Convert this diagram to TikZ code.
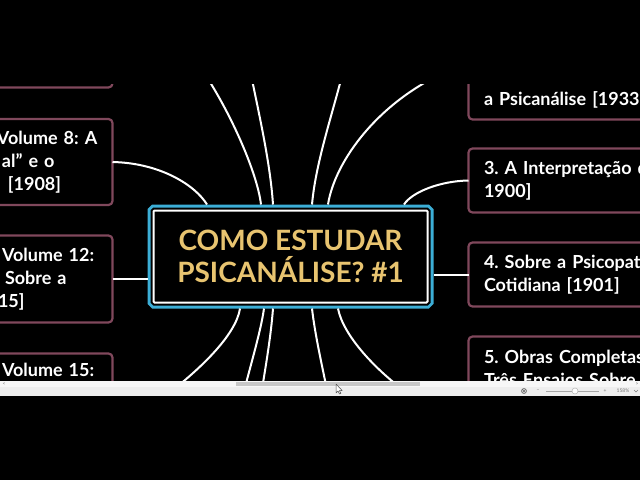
\documentclass[tikz,border=0pt]{standalone}
\usepackage{fontspec}
\setmainfont{Lato}
\usetikzlibrary{calc}
\frenchspacing
\definecolor{vinho}{RGB}{128,72,92}
\definecolor{ciano}{RGB}{60,174,214}
\definecolor{ouro}{RGB}{232,196,112}
\definecolor{trilho}{RGB}{247,247,247}
\definecolor{rodape}{RGB}{238,238,238}
\tikzset{
  galho/.style={white,line width=2pt},
  caixa/.style={draw=vinho,line width=2.2pt,rounded corners=4pt,fill=black,text=white,
    outer sep=0pt,align=left,font=\bfseries\fontsize{18}{23}\selectfont\frenchspacing},
  caixaesq/.style={caixa,inner xsep=6pt,text width=#1},
  caixadir/.style={caixa,inner xsep=15.5pt,text width=420pt,anchor=west},
  tema/.style={draw=white,line width=2pt,rounded corners=1pt,fill=black,
    minimum width=274pt,minimum height=92pt,outer sep=6pt,
    preaction={draw=ciano,line width=12pt},
    preaction={draw=black,line width=6pt},
    text=ouro,align=center,font=\bfseries\fontsize{28}{32}\selectfont},
  miudo/.style={inner sep=0pt,text=black!55,font=\fontsize{5}{5}\selectfont}
}
\begin{document}
\begin{tikzpicture}[x=1pt,y=-1pt]
\fill[black] (0,0) rectangle (640,480);
\useasboundingbox (0,0) rectangle (640,480);

\begin{scope}
\clip (0,84) rectangle (640,381);
\node[tema] (tema) at (290.5,256.5) {COMO ESTUDAR\\PSICANÁLISE? \#1};

% lado esquerdo
\node[caixaesq=110pt,minimum height=86pt,anchor=south east] (obras) at (112.5,87.5) {};
\node[caixaesq=109.5pt,minimum height=86pt,anchor=east] (vol8) at (112.5,162)
  {Volume 8: A\\\hspace*{5pt}al” e o\\\hspace*{11pt}[1908]};
\node[caixaesq=104.5pt,minimum height=87pt,anchor=east] (vol12) at (112.5,279)
  {Volume 12:\\\hspace*{3pt}Sobre a\\\hspace*{-4pt}15]};
\node[caixaesq=104.5pt,minimum height=86pt,anchor=north east] (vol15) at (112.5,353.5)
  {Volume 15:\\\strut\\\strut};

% lado direito
\node[caixadir,minimum height=64pt,anchor=south west] (psicanalise) at (468.5,119.5)
  {\strut\\a Psicanálise [1933};
\node[caixadir,minimum height=64pt] (sonhos) at (468.5,180.5) {3. A Interpretação d\\1900]};
\node[caixadir,minimum height=64pt] (psicopat) at (468.5,274.5) {4. Sobre a Psicopat\\Cotidiana [1901]};
\node[caixadir,minimum height=64pt,anchor=north west] (ensaios) at (468.5,336.5)
  {5. Obras Completas\\Três Ensaios Sobre};

\coordinate (cima1) at (195,60);
\coordinate (cima2) at (248,60);
\coordinate (cima3) at (346,60);
\coordinate (cima4) at (450,70);
\coordinate (baixo1) at (160,400);
\coordinate (baixo2) at (243,395);
\coordinate (baixo3) at (261,395);
\coordinate (baixo4) at (328,395);
\coordinate (baixo5) at (410,395);

\draw[galho] (vol8.east) .. controls (160,163) and (195,185) .. (207,0 |- tema.north);
\draw[galho] (vol12.east) -- (vol12.east -| tema.west);
\draw[galho] (sonhos.west) .. controls (440,181) and (412,192) .. (404,0 |- tema.north);
\draw[galho] (psicopat.west) -- (psicopat.west -| tema.east);

\draw[galho] (261,0 |- tema.north) .. controls (257,170) and (225,100) .. (cima1);
\draw[galho] (273,0 |- tema.north) .. controls (270,160) and (258,110) .. (cima2);
\draw[galho] (312,0 |- tema.north) .. controls (316,160) and (334,110) .. (cima3);
\draw[galho] (328,0 |- tema.north) .. controls (335,160) and (380,100) .. (cima4);

\draw[galho] (240,0 |- tema.south) .. controls (236,335) and (200,370) .. (baixo1);
\draw[galho] (264,0 |- tema.south) .. controls (261,330) and (252,360) .. (baixo2);
\draw[galho] (273,0 |- tema.south) .. controls (271,335) and (266,365) .. (baixo3);
\draw[galho] (312,0 |- tema.south) .. controls (315,335) and (322,365) .. (baixo4);
\draw[galho] (338,0 |- tema.south) .. controls (343,335) and (375,370) .. (baixo5);
\end{scope}

% barra de rolagem e zoom
\fill[trilho] (0,381) rectangle (640,387);
\fill[black!22] (236,381.5) rectangle (420,386);
\fill[rodape] (0,387) rectangle (640,396);
\node[miudo] (rolaesq) at (4,384) {<};
\node[miudo] (roladir) at (637,384) {>};
\draw[black!65,line width=0.7pt] (524,391) circle (2.4pt);
\fill[black!65] (524,391) circle (1.1pt);
\node[miudo] (menos) at (538,391) {−};
\draw[black!35,line width=1pt] (546,391) -- (599,391);
\draw[black!30,fill=white,line width=0.5pt] (575,391) circle (3pt);
\node[miudo] (mais) at (605,391) {+};
\node[miudo] (zoom) at (623,391) {158\%};
\draw[black!50,line width=0.5pt] (634,390) -- (636,392) -- (638,390);
%\draw[red] (336,384) circle (1pt);
\draw[black!70,fill=white,line width=0.5pt,line join=round] (336,384) -- (336,393) -- (338,391)
  -- (339.5,394) -- (340.8,393.4) -- (339.4,390.6) -- (342.2,390.6) -- cycle;
\end{tikzpicture}
\end{document}
